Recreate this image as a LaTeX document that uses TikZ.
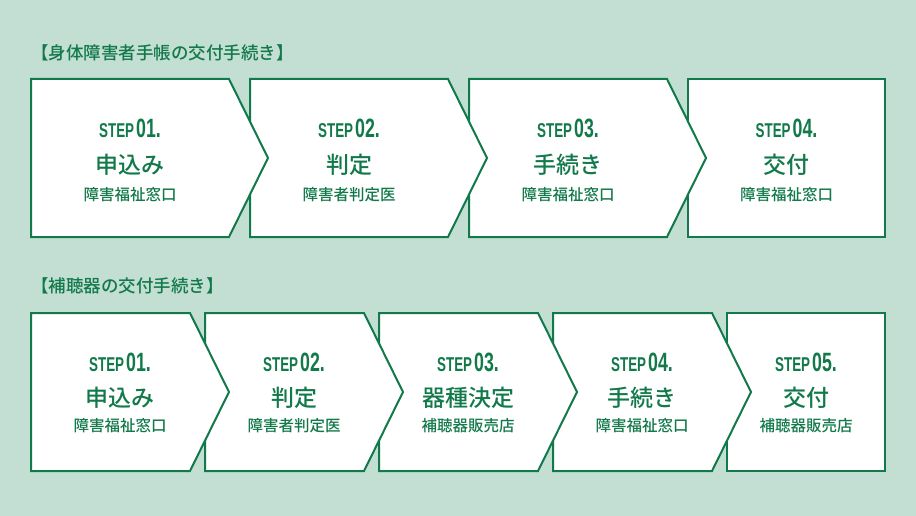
\documentclass[tikz,border=0pt]{standalone}
\usepackage{fontspec}
\setmainfont{Noto Sans CJK JP Medium}
\newfontfamily\stepfont[FakeStretch=0.67]{Liberation Sans}
\usetikzlibrary{positioning}
\definecolor{bgmint}{HTML}{C3DFD3}
\definecolor{stepgreen}{HTML}{12794A}

\begin{document}
\begin{tikzpicture}[x=1pt,y=-1pt,
  stepshape/.style={draw=stepgreen,fill=white,line width=2pt,line join=miter},
  steplabel/.style={text=stepgreen,inner sep=0pt,anchor=base,font=\stepfont\bfseries},
  mainlabel/.style={text=stepgreen,inner sep=0pt,font=\fontsize{23}{23}\selectfont},
  sublabel/.style={text=stepgreen,inner sep=0pt,font=\fontsize{15.5}{15.5}\selectfont},
  titlelabel/.style={text=stepgreen,inner sep=0pt,anchor=west,font=\fontsize{17.5}{17.5}\selectfont}]
  \fill[bgmint] (0,0) rectangle (916,516);
  \useasboundingbox (0,0) rectangle (916,516);

  % first flow
  \node[titlelabel] (ttlA) at (31,53) {【身体障害者手帳の交付手続き】};
  \draw[stepshape] (688,79) rectangle (885,237);
  \node[steplabel] (a4n) at (786.5,137.5) {\fontsize{20}{20}\selectfont STEP\hspace{2pt}\fontsize{26.5}{26.5}\selectfont 04.};
  \node[mainlabel] (a4m) at (786.5,165) {交付};
  \node[sublabel] (a4s) at (786.5,194.5) {障害福祉窓口};
  \foreach \i/\x/\num/\main/\sub in {3/469/03/手続き/障害福祉窓口,2/250/02/判定/障害者判定医,1/31/01/申込み/障害福祉窓口} {
    \draw[stepshape] (\x,79) -- ({\x+198},79) -- ({\x+237},158) -- ({\x+198},237) -- (\x,237) -- cycle;
    \node[steplabel] (a\i n) at ({\x+99},137.5) {\fontsize{20}{20}\selectfont STEP\hspace{2pt}\fontsize{26.5}{26.5}\selectfont \num.};
    \node[mainlabel] (a\i m) at ({\x+99},165) {\main};
    \node[sublabel] (a\i s) at ({\x+99},194.5) {\sub};
  }

  % second flow
  \node[titlelabel] (ttlB) at (31,285.5) {【補聴器の交付手続き】};
  \draw[stepshape] (727,313) rectangle (885,471);
  \node[steplabel] (b5n) at (806,371) {\fontsize{20}{20}\selectfont STEP\hspace{2pt}\fontsize{26.5}{26.5}\selectfont 05.};
  \node[mainlabel] (b5m) at (806,398) {交付};
  \node[sublabel] (b5s) at (806,426) {補聴器販売店};
  \foreach \i/\x/\num/\main/\sub in {4/553/04/手続き/障害福祉窓口,3/379/03/器種決定/補聴器販売店,2/205/02/判定/障害者判定医,1/31/01/申込み/障害福祉窓口} {
    \draw[stepshape] (\x,313) -- ({\x+159},313) -- ({\x+198},392) -- ({\x+159},471) -- (\x,471) -- cycle;
    \node[steplabel] (b\i n) at ({\x+89},371) {\fontsize{20}{20}\selectfont STEP\hspace{2pt}\fontsize{26.5}{26.5}\selectfont \num.};
    \node[mainlabel] (b\i m) at ({\x+89},398) {\main};
    \node[sublabel] (b\i s) at ({\x+89},426) {\sub};
  }
\end{tikzpicture}
\end{document}
